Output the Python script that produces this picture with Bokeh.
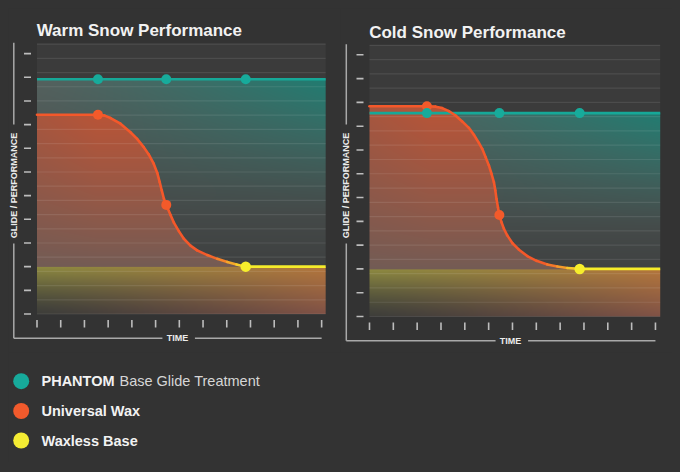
import numpy as np
from bokeh.plotting import figure
from bokeh.layouts import column, row
from bokeh.models import Range1d
from bokeh.core.properties import value
from bokeh.embed import file_html
from bokeh.resources import INLINE

# ---------------- data ----------------
TITLES = ["Warm Snow Performance", "Cold Snow Performance"]
Y_LABEL = "GLIDE / PERFORMANCE"
X_LABEL = "TIME"
Y_TICKS = [0, 1, 2, 3, 4, 5, 6, 7, 8, 9, 10, 11]
X_TICKS = [0, 1, 2, 3, 4, 5, 6, 7, 8, 9, 10, 11, 12]
GRID_LEVELS = [0.0, 0.6, 1.2, 1.8, 2.4, 3.0, 3.6, 4.2, 4.8, 5.4, 6.0, 6.6,
               7.2, 7.8, 8.4, 9.0, 9.6, 10.2, 10.8, 11.4]

WARM_MARK_TIMES = [2.57, 5.45, 8.80]
WARM_PHANTOM = 9.92
WARM_WAXLESS = 2.0
WARM_WAX_MARKS = [8.42, 4.61]
WARM_WAX_X = [0.0, 2.57, 2.85, 3.10, 3.52, 3.94, 4.22, 4.50, 4.71, 4.92, 5.07, 5.17,
              5.26, 5.35, 5.45, 5.63, 5.77, 5.98, 6.19, 6.47, 6.75, 7.18, 7.60, 8.02,
              8.41, 8.80]
WARM_WAX_Y = [8.42, 8.42, 8.38, 8.28, 8.04, 7.68, 7.40, 7.05, 6.74, 6.35, 5.96, 5.58,
              5.22, 4.87, 4.61, 4.18, 3.86, 3.50, 3.18, 2.89, 2.69, 2.49, 2.33, 2.20,
              2.09, 2.00]

COLD_MARK_TIMES = [2.41, 5.45, 8.82]
COLD_PHANTOM = 8.55
COLD_WAXLESS = 2.0
COLD_WAX_MARKS = [8.84, 4.27]
COLD_WAX_X = [0.0, 2.41, 2.77, 3.05, 3.33, 3.61, 3.89, 4.17, 4.38, 4.59, 4.73, 4.87,
              5.01, 5.12, 5.22, 5.28, 5.33, 5.39, 5.45, 5.54, 5.64, 5.78, 6.00, 6.26,
              6.62, 7.01, 7.46, 7.88, 8.30, 8.82]
COLD_WAX_Y = [8.84, 8.84, 8.82, 8.76, 8.63, 8.45, 8.20, 7.93, 7.64, 7.30, 7.05, 6.70,
              6.35, 6.00, 5.65, 5.30, 4.94, 4.59, 4.27, 3.96, 3.69, 3.41, 3.08, 2.82,
              2.54, 2.34, 2.19, 2.10, 2.04, 2.00]

LEGEND_BOLD = ["PHANTOM", "Universal Wax", "Waxless Base"]
LEGEND_REST = ["Base Glide Treatment", "", ""]

# ---------------- style ----------------
BG = "#333333"
TEAL = "#16a898"
ORANGE = "#f4582a"
YELLOW = "#f6ec2a"
LEGEND_COLORS = ["#17aa9b", "#f15a2c", "#f4ec33"]
TICK_COLOR = "#bdbdbd"
FRAME_LINE = "#a9a9a9"
TEXT = "#f2f2f2"
FONT = value("Liberation Sans")

# panel geometry in page pixels
GEOM = [
    dict(left=8, top=8, w=332, h=344, ox=36.5, oy=313.5, sx=23.72, sy=23.67,
         xmax=12.17, ymax=11.43, title_mid=29.9, ylab_y=185.0),
    dict(left=340, top=8, w=332, h=344, ox=369.0, oy=316.0, sx=23.83, sy=23.79,
         xmax=12.2, ymax=11.42, title_mid=31.5, ylab_y=185.0),
]


def lerp(a, b, t):
    return a + (b - a) * t


def fill_image(g, phantom, wax_x, wax_y, waxless):
    W = int(round(g["xmax"] * g["sx"])) * 2
    H = int(round(g["ymax"] * g["sy"])) * 2
    xs = (np.arange(W) + 0.5) / W * g["xmax"]
    ys = (np.arange(H) + 0.5) / H * g["ymax"]
    X, Y = np.meshgrid(xs, ys)
    u = X / g["xmax"]
    rgb = np.empty((H, W, 3))
    rgb[...] = np.array([59, 59, 59.0])

    # PHANTOM (teal) region
    d = np.clip((phantom - Y) / phantom, 0, 1)
    gray = lerp(np.array([84, 97, 94.0]), np.array([62, 64, 64.0]),
                np.clip(d / 0.8, 0, 1)[..., None])
    s = (u ** 1.2 * np.clip(1 - d / 0.6, 0, 1) ** 1.4)[..., None]
    tcol = lerp(gray, np.array([32, 124, 113.0]), s)
    m = Y <= phantom
    rgb[m] = tcol[m]

    # Universal wax (orange) region
    top = np.interp(xs, wax_x, wax_y, right=waxless)[None, :]
    t = np.clip((Y - waxless) / (wax_y[0] - waxless), 0, 1)
    a = (0.12 + 0.88 * t ** 0.9) * (0.8 + 0.2 * np.clip(X / 2.5, 0, 1))
    ocol = lerp(np.array([106, 92, 88.0]), np.array([184, 84, 55.0]), a[..., None])
    m = Y <= top
    rgb[m] = ocol[m]

    # Waxless (yellow) band
    tv = np.clip(Y / waxless, 0, 1)
    lcol = lerp(np.array([62, 62, 58.0]), np.array([142, 138, 64.0]), (tv ** 1.3)[..., None])
    rcol = lerp(np.array([128, 82, 70.0]), np.array([180, 118, 60.0]), tv[..., None])
    bcol = lerp(lcol, rcol, (u ** 1.2)[..., None])
    m = Y <= waxless
    rgb[m] = bcol[m]

    img = np.empty((H, W), dtype=np.uint32)
    v = img.view(dtype=np.uint8).reshape((H, W, 4))
    v[..., :3] = np.clip(np.round(rgb), 0, 255).astype(np.uint8)
    v[..., 3] = 255
    return img


def hexcol(c):
    return "#%02x%02x%02x" % tuple(int(round(x)) for x in c)


def panel(g, title, times, phantom, waxless, wax_x, wax_y, wax_marks):
    px = lambda xp: (xp - g["ox"]) / g["sx"]
    py = lambda yp: (g["oy"] - yp) / g["sy"]
    p = figure(width=g["w"], height=g["h"],
               x_range=Range1d(px(g["left"]), px(g["left"] + g["w"])),
               y_range=Range1d(py(g["top"] + g["h"]), py(g["top"])),
               toolbar_location=None, output_backend="svg", min_border=0,
               x_axis_location=None, y_axis_location=None,
               background_fill_color=BG, border_fill_color=BG, outline_line_color=None)
    p.grid.visible = False

    img = fill_image(g, phantom, wax_x, wax_y, waxless)
    p.image_rgba(image=[img], x=0, y=0, dw=g["xmax"], dh=g["ymax"])

    # faint horizontal rules
    p.segment(x0=0, x1=g["xmax"], y0=GRID_LEVELS, y1=GRID_LEVELS,
              line_color="white", line_alpha=0.09, line_width=1.2)

    # ticks
    p.segment(x0=-13 / g["sx"], x1=-6 / g["sx"], y0=Y_TICKS, y1=Y_TICKS,
              line_color=TICK_COLOR, line_width=1.6)
    p.segment(x0=X_TICKS, x1=X_TICKS, y0=-6 / g["sy"], y1=-13.5 / g["sy"],
              line_color=TICK_COLOR, line_width=1.6)

    # L-shaped outer axis line with gaps for labels
    vx = -23.2 / g["sx"]
    hy = -24.2 / g["sy"]
    ytop = g["ymax"] + 0.6 / g["sy"]
    ylab = py(g["ylab_y"])
    tx = 5.92
    p.multi_line(
        xs=[[vx, vx], [vx, vx], [vx, tx - 15 / g["sx"]], [tx + 17.5 / g["sx"], X_TICKS[-1]]],
        ys=[[ytop, ylab + 61 / g["sy"]], [ylab - 58 / g["sy"], hy], [hy, hy], [hy, hy]],
        line_color=FRAME_LINE, line_width=1.5)
    p.text(x=[vx], y=[ylab], text=[Y_LABEL], angle=np.pi / 2, text_align="center",
           text_baseline="middle", text_font=FONT, text_font_style="bold",
           text_font_size="9px", text_color="#ececec")
    p.text(x=[tx], y=[hy], text=[X_LABEL], text_align="center",
           text_baseline="middle", text_font=FONT, text_font_style="bold",
           text_font_size="9px", text_color="#ececec")

    # title
    p.text(x=[-0.3 / g["sx"]], y=[py(g["title_mid"])], text=[title], text_align="left",
           text_baseline="middle", text_font=FONT, text_font_style="bold",
           text_font_size="17px", text_color=TEXT)

    # series lines
    p.line(x=[0, g["xmax"]], y=[phantom, phantom], line_color=TEAL, line_width=2.6)
    wx = np.array(wax_x)
    wy = np.array(wax_y)
    xm = (wx[:-1] + wx[1:]) / 2
    f = np.clip((xm - (wx[-1] - 1.7)) / 1.7, 0, 1) ** 1.3
    oc = np.array([244, 88, 42.0])
    yc = np.array([246, 226, 42.0])
    cols = [hexcol(lerp(oc, yc, k)) for k in f]
    p.segment(x0=wx[:-1], y0=wy[:-1], x1=wx[1:], y1=wy[1:], line_color=cols,
              line_width=2.6, line_cap="round")
    p.line(x=[times[2], g["xmax"]], y=[waxless, waxless], line_color=YELLOW, line_width=2.6)

    # markers
    p.scatter(x=times[:2], y=wax_marks, size=10, fill_color="#f35a2a", line_color=None)
    p.scatter(x=[times[2]], y=[waxless], size=10.5, fill_color="#f6ee2c", line_color=None)
    p.scatter(x=times, y=[phantom] * 3, size=10, fill_color="#17ab9b", line_color=None)
    return p


p1 = panel(GEOM[0], TITLES[0], WARM_MARK_TIMES, WARM_PHANTOM, WARM_WAXLESS,
           WARM_WAX_X, WARM_WAX_Y, WARM_WAX_MARKS)
p2 = panel(GEOM[1], TITLES[1], COLD_MARK_TIMES, COLD_PHANTOM, COLD_WAXLESS,
           COLD_WAX_X, COLD_WAX_Y, COLD_WAX_MARKS)

# legend strip (coordinates = page pixels)
LEG_TOP, LEG_H = 352, 110
pl = figure(width=664, height=LEG_H, x_range=Range1d(8, 672),
            y_range=Range1d(LEG_TOP + LEG_H, LEG_TOP),
            toolbar_location=None, output_backend="svg", min_border=0,
            x_axis_location=None, y_axis_location=None,
            background_fill_color=BG, border_fill_color=BG, outline_line_color=None)
pl.grid.visible = False
row_y = [380.7, 410.5, 440.0]
pl.scatter(x=[20.7] * 3, y=row_y, size=16, fill_color=LEGEND_COLORS, line_color=None)
pl.text(x=[41] * 3, y=row_y, text=LEGEND_BOLD, text_font=FONT, text_font_style="bold",
        text_font_size="14.5px", text_color=TEXT, text_baseline="middle")
pl.text(x=[119], y=[row_y[0]], text=[LEGEND_REST[0]], text_font=FONT,
        text_font_size="14.5px", text_color="#d6d6d6", text_baseline="middle")

layout = column(row(p1, p2), pl)
html = file_html(layout, INLINE)
html = html.replace("</head>", "<style>html,body{background:#333333;margin:0;padding:0;}body{margin:8px;overflow:hidden;}</style></head>", 1)
open("out.html", "w").write(html)
